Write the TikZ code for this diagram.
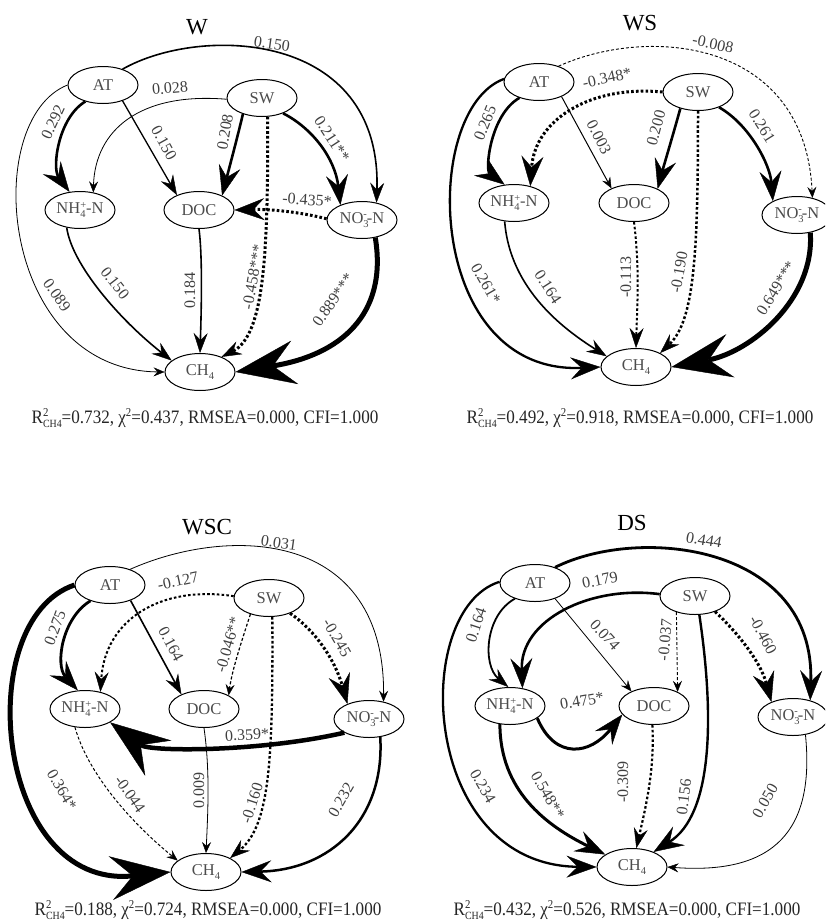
\documentclass[tikz,border=0pt]{standalone}
\usepackage{fontspec}
\setmainfont{Liberation Serif}
\usepackage{graphicx}
\usetikzlibrary{arrows.meta,shapes.geometric}
\newcommand{\mylo}[1]{\raisebox{-0.5ex}{\fontsize{10.5}{10.5}\selectfont #1}}
\newcommand{\myhi}[1]{\raisebox{0.75ex}{\fontsize{10.5}{10.5}\selectfont #1}}
\newcommand{\nhf}{NH\rlap{\mylo{4}}\myhi{+}-N}
\newcommand{\nof}{NO\rlap{\mylo{3}}\myhi{-}-N}
\newcommand{\chf}{CH\mylo{4}}
\newcommand{\caplo}[1]{\raisebox{-0.5ex}{\fontsize{11}{11}\selectfont #1}}
\newcommand{\caphi}[1]{\raisebox{0.85ex}{\fontsize{12}{12}\selectfont #1}}
\newcommand{\captext}[2]{\scalebox{0.9}[1]{R\rlap{\caphi{2}}\caplo{CH4}=#1, χ\caphi{2}=#2, RMSEA=0.000, CFI=1.000}}
\tikzset{
 nd/.style={ellipse, draw, line width=1pt, minimum width=70pt, minimum height=37pt, inner sep=0pt, font=\fontsize{16.5}{16.5}\selectfont, text=black!70},
 lb/.style={font=\fontsize{16}{16}\selectfont, text=black!75, inner sep=0pt},
 tt/.style={font=\fontsize{23}{23}\selectfont, inner sep=0pt},
 cp/.style={font=\fontsize{19}{19}\selectfont, inner sep=0pt, text=black!85},
 ta/.style={-{Stealth[length=11pt,width=9pt,inset=4pt,line width=0.4pt]}},
 tb/.style={-{Stealth[length=20pt,width=14pt,inset=7pt,line width=0.4pt]}},
 tc/.style={-{Stealth[length=30pt,width=22pt,inset=11pt,line width=0.4pt]}},
 td/.style={-{Stealth[length=60pt,width=44pt,inset=22pt,line width=0.4pt]}},
 wa/.style={line width=0.8pt, ta},
 wb/.style={line width=1.6pt, tb},
 wc/.style={line width=2.6pt, tc},
 wd/.style={line width=5pt, td},
 dt/.style={dash pattern=on 2.6pt off 2.2pt},
 ds/.style={dash pattern=on 3pt off 2pt},
}
\begin{document}
\begin{tikzpicture}[x=1pt,y=-1pt]
\clip (0,0) rectangle (825,924);
\fill[white] (0,0) rectangle (825,924);
% ---------------- W ----------------
\node[tt] (wT) at (197,27) {W};
\node[nd] (wAT) at (103,85) {AT};
\node[nd] (wSW) at (262,98) {SW};
\node[nd] (wNH) at (80,210) {\nhf};
\node[nd] (wDOC) at (199,210) {DOC};
\node[nd] (wNO) at (362,220) {\nof};
\node[nd] (wCH) at (200,372) {\chf};
\draw[wb] (wAT.39) .. controls (200,25) and (382,30) .. (wNO.50);
\node[lb,rotate=-8] (wL1) at (272,44) {0.150};
\draw[wc] (wAT.223) .. controls (58,118) and (52,168) .. (wNH.120);
\node[lb,rotate=65] (wL2) at (53,122) {0.292};
\draw[line width=1.3pt, tb] (wAT.321) -- (wDOC.146);
\node[lb,rotate=-61] (wL3) at (164,143) {0.150};
\draw[wa] (wSW.182) .. controls (140,92) and (95,130) .. (wNH.53);
\node[lb,rotate=5] (wL4) at (170,88) {0.028};
\draw[wc] (wSW.220) .. controls (238,135) and (230,165) .. (wDOC.32);
\node[lb,rotate=80] (wL5) at (225,132) {0.208};
\draw[wc] (wSW.324) .. controls (312,128) and (335,158) .. (wNO.145);
\node[lb,rotate=-57] (wL6) at (332,139) {0.211**};
\draw[line width=3pt, dt, tc] (wNO.178) .. controls (300,212) and (270,209) .. (wDOC.east);
\node[lb,rotate=-4] (wL7) at (307,200) {-0.435*};
\draw[line width=3pt, dt, tb] (wSW.287) .. controls (268,250) and (265,335) .. (wCH.35);
\node[lb,rotate=80] (wL8) at (253,277) {-0.458***};
\draw[wb] (wDOC.south) .. controls (203,260) and (201,320) .. (wCH.north);
\node[lb,rotate=90] (wL9) at (190,290) {0.184};
\draw[wb] (wNH.233) .. controls (72,265) and (120,320) .. (wCH.158);
\node[lb,rotate=-52] (wL10) at (115,283) {0.150};
\draw[wa] (wAT.180) .. controls (-20,120) and (0,370) .. (wCH.west);
\node[lb,rotate=-55] (wL11) at (57,295) {0.089};
\draw[wd] (wNO.307) .. controls (388,315) and (340,355) .. (wCH.east);
\node[lb,rotate=55] (wL12) at (333,300) {0.889***};
\node[cp] (wC) at (205,418) {\captext{0.732}{0.437}};
% ---------------- WS ----------------
\node[tt] (sT) at (640,23) {WS};
\node[nd] (sAT) at (539,82) {AT};
\node[nd] (sSW) at (698,92) {SW};
\node[nd] (sNH) at (514,203) {\nhf};
\node[nd] (sDOC) at (634,203) {DOC};
\node[nd] (sNO) at (797,215) {\nof};
\node[nd] (sCH) at (636,367) {\chf};
\draw[line width=0.9pt, ds, ta] (sAT.39) .. controls (650,25) and (805,40) .. (sNO.48);
\node[lb,rotate=-12] (sL1) at (713,44) {-0.008};
\draw[wc] (sAT.219) .. controls (490,115) and (485,170) .. (sNH.117);
\node[lb,rotate=68] (sL2) at (485,123) {0.265};
\draw[line width=3pt, dt, tc] (sSW.180) .. controls (590,85) and (535,120) .. (sNH.46);
\node[lb,rotate=12] (sL3) at (607,78) {-0.348*};
\draw[line width=1pt, ta] (sAT.327) -- (sDOC.147);
\node[lb,rotate=-63] (sL4) at (599,137) {0.003};
\draw[wc] (sSW.223) .. controls (673,135) and (664,165) .. (sDOC.31);
\node[lb,rotate=75] (sL5) at (656,128) {0.200};
\draw[wc] (sSW.324) .. controls (750,125) and (770,165) .. (sNO.150);
\node[lb,rotate=-58] (sL6) at (762,126) {0.261};
\draw[line width=2.5pt, dt, tb] (sSW.south) .. controls (698,250) and (695,320) .. (sCH.30);
\node[lb,rotate=80] (sL7) at (679,272) {-0.190};
\draw[line width=2pt, dt, tb] (sDOC.south) .. controls (640,270) and (637,310) .. (sCH.north);
\node[lb,rotate=90] (sL8) at (626,277) {-0.113};
\draw[wb] (sNH.243) .. controls (510,290) and (565,330) .. (sCH.160);
\node[lb,rotate=-57] (sL9) at (548,287) {0.164};
\draw[line width=2.3pt, tc] (sAT.175) .. controls (420,110) and (425,375) .. (sCH.west);
\node[lb,rotate=-60] (sL10) at (486,284) {0.261*};
\draw[wd] (sNO.307) .. controls (815,300) and (750,352) .. (sCH.east);
\node[lb,rotate=58] (sL11) at (776,288) {0.649***};
\node[cp] (sC) at (640,418) {\captext{0.492}{0.918}};
% ---------------- WSC ----------------
\node[tt] (cT) at (207,527) {WSC};
\node[nd] (cAT) at (110,585) {AT};
\node[nd] (cSW) at (269,598) {SW};
\node[nd] (cNH) at (85,709) {\nhf};
\node[nd] (cDOC) at (204,709) {DOC};
\node[nd] (cNO) at (369,719) {\nof};
\node[nd] (cCH) at (206,872) {\chf};
\draw[wa] (cAT.38) .. controls (230,525) and (385,530) .. (cNO.50);
\node[lb,rotate=-8] (cL1) at (279,543) {0.031};
\draw[line width=2.8pt, tc] (cAT.219) .. controls (62,618) and (55,665) .. (cNH.111);
\node[lb,rotate=70] (cL2) at (55,628) {0.275};
\draw[line width=2pt, dt, tb] (cSW.177) .. controls (160,585) and (105,620) .. (cNH.48);
\node[lb,rotate=12] (cL3) at (178,581) {-0.127};
\draw[wb] (cAT.323) -- (cDOC.147);
\node[lb,rotate=-62] (cL4) at (171,644) {0.164};
\draw[line width=1.2pt, ds, ta] (cSW.221) .. controls (242,640) and (232,670) .. (cDOC.29);
\node[lb,rotate=74] (cL5) at (228,645) {-0.046**};
\draw[line width=3pt, dt, tc] (cSW.324) .. controls (315,630) and (335,660) .. (cNO.145);
\node[lb,rotate=-60] (cL6) at (337,638) {-0.245};
\draw[line width=2.3pt, dt, tb] (cSW.280) .. controls (273,760) and (270,825) .. (cCH.30);
\node[lb,rotate=72] (cL7) at (252,803) {-0.160};
\draw[wa] (cDOC.south) .. controls (210,770) and (208,810) .. (cCH.north);
\node[lb,rotate=90] (cL8) at (199,790) {0.009};
\draw[line width=1pt, ds, ta] (cNH.241) .. controls (90,780) and (140,830) .. (cCH.158);
\node[lb,rotate=-55] (cL9) at (130,794) {-0.044};
\draw[wd] (cAT.180) .. controls (-30,620) and (-5,890) .. (cCH.west);
\node[lb,rotate=-60] (cL10) at (62,790) {0.364*};
\draw[line width=4.5pt, td] (cNO.209) .. controls (260,752) and (150,752) .. (cNH.332);
\node[lb,rotate=3] (cL11) at (247,735) {0.359*};
\draw[line width=2.5pt, tc] (cNO.302) .. controls (385,820) and (330,870) .. (cCH.east);
\node[lb,rotate=60] (cL12) at (341,800) {0.232};
\node[cp] (cC) at (208,910) {\captext{0.188}{0.724}};
% ---------------- DS ----------------
\node[tt] (dT) at (632,523) {DS};
\node[nd] (dAT) at (535,583) {AT};
\node[nd] (dSW) at (695,596) {SW};
\node[nd] (dNH) at (510,706) {\nhf};
\node[nd] (dDOC) at (654,706) {DOC};
\node[nd] (dNO) at (793,717) {\nof};
\node[nd] (dCH) at (632,867) {\chf};
\draw[line width=2.8pt, tc] (dAT.38) .. controls (640,525) and (815,545) .. (dNO.44);
\node[lb,rotate=-10] (dL1) at (704,540) {0.444};
\draw[line width=1.8pt, tb] (dAT.218) .. controls (485,615) and (482,665) .. (dNH.95);
\node[lb,rotate=72] (dL2) at (476,625) {0.164};
\draw[line width=2.6pt, tc] (dSW.177) .. controls (590,585) and (520,620) .. (dNH.55);
\node[lb,rotate=12] (dL3) at (600,580) {0.179};
\draw[wa] (dAT.322) -- (dDOC.147);
\node[lb,rotate=-48] (dL4) at (605,635) {0.074};
\draw[line width=0.9pt, ds, ta] (dSW.221) -- (dDOC.31);
\node[lb,rotate=85] (dL5) at (665,640) {-0.037};
\draw[line width=3pt, dt, tc] (dSW.322) .. controls (735,630) and (760,660) .. (dNO.145);
\node[lb,rotate=-62] (dL6) at (763,635) {-0.460};
\draw[line width=2.4pt, tc] (dSW.283) .. controls (715,720) and (712,815) .. (dCH.35);
\node[lb,rotate=83] (dL7) at (684,797) {0.156};
\draw[line width=2.2pt, dt, tb] (dDOC.265) .. controls (655,770) and (645,810) .. (dCH.77);
\node[lb,rotate=90] (dL8) at (623,782) {-0.309};
\draw[line width=3pt, tc] (dNH.336) .. controls (555,760) and (590,755) .. (dDOC.195);
\node[lb,rotate=10] (dL9) at (582,701) {0.475*};
\draw[line width=3pt, tc] (dNH.241) .. controls (500,790) and (545,825) .. (dCH.155);
\node[lb,rotate=-60] (dL10) at (548,795) {0.548**};
\draw[line width=2.3pt, tc] (dAT.178) .. controls (410,610) and (420,865) .. (dCH.west);
\node[lb,rotate=-60] (dL11) at (483,786) {0.234};
\draw[wa] (dNO.305) .. controls (815,830) and (775,875) .. (dCH.east);
\node[lb,rotate=60] (dL12) at (765,801) {0.050};
\node[cp] (dC) at (627,910) {\captext{0.432}{0.526}};
\end{tikzpicture}
\end{document}
